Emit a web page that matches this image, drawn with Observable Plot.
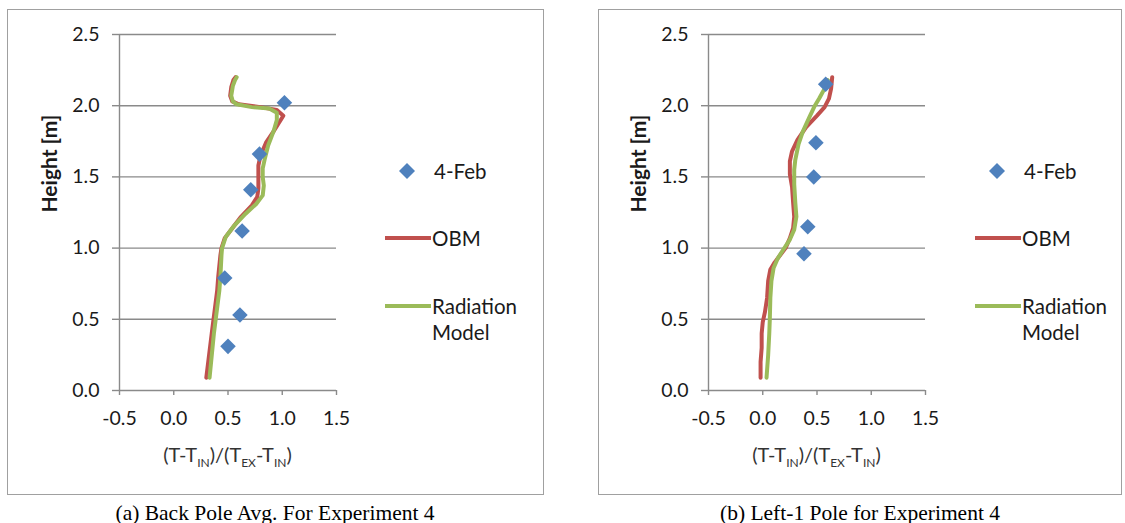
<!DOCTYPE html>
<html><head><meta charset="utf-8">
<script src="https://cdn.jsdelivr.net/npm/d3@7"></script>
<script src="https://cdn.jsdelivr.net/npm/@observablehq/plot@0.6"></script>
<style>
body{margin:0;background:#fff;width:1125px;height:523px;overflow:hidden;position:relative;font-family:Lato,sans-serif}
.box{position:absolute;border:1px solid #a0a0a0;box-sizing:border-box}
.panel{position:absolute;top:0}
.cap{position:absolute;font-family:"Liberation Serif",serif;font-size:21.5px;white-space:nowrap;transform:translate(-50%,-50%);color:#000}
.leg{position:absolute;font-size:20.5px;color:#1a1a1a;line-height:26px;white-space:nowrap}
.sw{position:absolute}
</style></head><body>
<script>
const xTicks = [-0.5, 0, 0.5, 1, 1.5];
const yTicks = [0, 0.5, 1, 1.5, 2, 2.5];
const seriesNames = ["4-Feb", "OBM", "Radiation", "Model"];
const colors = ["#4F81BD", "#C0504D", "#9BBB59"];
const captions = ["(a) Back Pole Avg. For Experiment 4", "(b) Left-1 Pole for Experiment 4"];

// Panel (a)
const aPtsX = [1.02, 0.79, 0.71, 0.63, 0.47, 0.61, 0.50];
const aPtsY = [2.02, 1.66, 1.41, 1.12, 0.79, 0.53, 0.31];
const aObmX = [0.30,0.35,0.40,0.41,0.43,0.44,0.47,0.55,0.62,0.72,0.77,0.78,0.78,0.78,0.80,0.85,0.92,0.97,1.01,0.95,0.80,0.60,0.54,0.52,0.53,0.55,0.57];
const aObmY = [0.09,0.40,0.70,0.80,0.95,1.00,1.07,1.15,1.22,1.30,1.36,1.42,1.50,1.58,1.65,1.74,1.82,1.88,1.93,1.97,1.99,2.01,2.03,2.07,2.13,2.18,2.20];
const aRadX = [0.33,0.37,0.42,0.43,0.44,0.445,0.48,0.56,0.66,0.76,0.82,0.83,0.82,0.82,0.84,0.87,0.92,0.95,0.95,0.88,0.72,0.58,0.545,0.53,0.545,0.565,0.58];
const aRadY = [0.09,0.40,0.70,0.80,0.95,1.00,1.08,1.16,1.24,1.31,1.37,1.44,1.50,1.56,1.63,1.72,1.82,1.90,1.95,1.98,1.99,2.01,2.03,2.07,2.14,2.18,2.20];

// Panel (b)
const bPtsX = [0.58, 0.49, 0.47, 0.415, 0.38];
const bPtsY = [2.15, 1.74, 1.50, 1.15, 0.96];
const bObmX = [-0.02,-0.02,-0.01,-0.01,0.00,0.02,0.04,0.05,0.07,0.11,0.17,0.21,0.25,0.28,0.29,0.28,0.27,0.25,0.25,0.27,0.32,0.40,0.50,0.57,0.61,0.63,0.64];
const bObmY = [0.09,0.20,0.30,0.40,0.48,0.55,0.65,0.77,0.85,0.90,0.96,1.00,1.07,1.14,1.22,1.32,1.43,1.52,1.61,1.68,1.76,1.85,1.93,1.99,2.05,2.12,2.20];
const bRadX = [0.035,0.05,0.06,0.065,0.07,0.08,0.10,0.14,0.19,0.25,0.29,0.31,0.30,0.29,0.29,0.30,0.33,0.37,0.43,0.48,0.52,0.57,0.60];
const bRadY = [0.09,0.25,0.40,0.50,0.65,0.77,0.86,0.93,0.99,1.06,1.13,1.22,1.32,1.45,1.55,1.62,1.73,1.82,1.92,2.00,2.05,2.12,2.18];

const zip = (xs, ys) => xs.map((x, i) => ({x, y: ys[i]}));
const fmt = d => d.toFixed(1);
const grid = "#8a8a8a";

function makePanel(pts, obm, rad) {
  const plot = Plot.plot({
    width: 560, height: 495,
    marginLeft: 119, marginRight: 224, marginTop: 34, marginBottom: 105,
    x: {domain: [-0.5, 1.5]},
    y: {domain: [0, 2.5]},
    style: {fontFamily: "Lato, sans-serif", fontSize: "19.5px", color: "#1a1a1a", background: "transparent", overflow: "visible"},
    marks: [
      Plot.gridY(yTicks, {stroke: grid, strokeOpacity: 1, strokeWidth: 1.4}),
      Plot.ruleX([-0.5], {stroke: grid, strokeWidth: 1.4}),
      Plot.axisY({ticks: yTicks, tickFormat: fmt, tickSize: 7, tickPadding: 13, stroke: grid, strokeWidth: 1.4, label: null}),
      Plot.axisX({ticks: xTicks, tickFormat: fmt, tickSize: 5, tickPadding: 16, stroke: grid, strokeWidth: 1.4, label: null}),
      Plot.text(["Height [m]"], {frameAnchor: "left", rotate: -90, dx: -69, fontWeight: "bold", fontSize: 21, fill: "#1a1a1a"}),
      Plot.line(obm, {x: "x", y: "y", stroke: colors[1], strokeWidth: 4, strokeLinejoin: "round", strokeLinecap: "round"}),
      Plot.line(rad, {x: "x", y: "y", stroke: colors[2], strokeWidth: 4, strokeLinejoin: "round", strokeLinecap: "round"}),
      Plot.dot(pts, {x: "x", y: "y", symbol: "diamond2", r: 7, fill: colors[0], stroke: "none"})
    ]
  });
  const svg = d3.select(plot);
  const xs = plot.scale("x");
  const t = svg.append("text").attr("x", xs.apply(0.5)).attr("y", 462)
    .attr("text-anchor", "middle").attr("font-size", 20).attr("fill", "#333").attr("font-family", "Lato, sans-serif");
  const parts = [["(T-T",0],["IN",1],[")/(T",0],["EX",1],["-T",0],["IN",1],[")",0]];
  let shifted = false;
  for (const [s, sub] of parts) {
    const ts = t.append("tspan").text(s);
    if (sub && !shifted) { ts.attr("dy", 5).attr("font-size", 12); shifted = true; }
    else if (sub) { ts.attr("font-size", 12); }
    else if (shifted) { ts.attr("dy", -5); shifted = false; }
  }
  return plot;
}

function addLegend(dx) {
  const d = document.createElement("div");
  d.className = "sw";
  d.style.left = (dx + 399) + "px"; d.style.top = "163px";
  d.innerHTML = `<svg width="16" height="16"><path d="M8,0L16,8L8,16L0,8Z" fill="${colors[0]}"/></svg>`;
  document.body.appendChild(d);
  const t1 = document.createElement("div"); t1.className = "leg";
  t1.style.left = (dx + 434) + "px"; t1.style.top = (171 - 13) + "px"; t1.textContent = seriesNames[0];
  document.body.appendChild(t1);
  [[238, colors[1], [seriesNames[1]]], [306, colors[2], [seriesNames[2], seriesNames[3]]]].forEach(([y, c, txt]) => {
    const s = document.createElement("div"); s.className = "sw";
    s.style.left = (dx + 385) + "px"; s.style.top = (y - 2) + "px";
    s.style.width = "46px"; s.style.height = "4px"; s.style.background = c;
    document.body.appendChild(s);
    const l = document.createElement("div"); l.className = "leg";
    l.style.left = (dx + 432) + "px"; l.style.top = (y - 13) + "px";
    l.innerHTML = txt.join("<br>");
    document.body.appendChild(l);
  });
}

[[7, 537], [598, 524]].forEach(([l, w]) => {
  const b = document.createElement("div"); b.className = "box";
  b.style.left = l + "px"; b.style.top = "9px"; b.style.width = w + "px"; b.style.height = "486px";
  document.body.appendChild(b);
});

const pa = makePanel(zip(aPtsX, aPtsY), zip(aObmX, aObmY), zip(aRadX, aRadY));
pa.classList.add("panel"); pa.style.left = "0px"; document.body.appendChild(pa);
const pb = makePanel(zip(bPtsX, bPtsY), zip(bObmX, bObmY), zip(bRadX, bRadY));
pb.classList.add("panel"); pb.style.left = "589px"; document.body.appendChild(pb);
addLegend(0);
addLegend(590);

[[275, captions[0]], [860, captions[1]]].forEach(([x, c]) => {
  const e = document.createElement("div"); e.className = "cap";
  e.style.left = x + "px"; e.style.top = "513px"; e.textContent = c;
  document.body.appendChild(e);
});
</script>
</body></html>
